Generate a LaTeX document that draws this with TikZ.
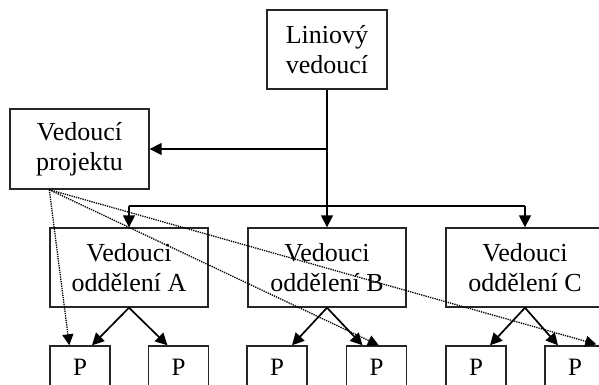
\documentclass[tikz,border=0pt]{standalone}
\usepackage{fontspec}
\setmainfont{Liberation Serif}
\usetikzlibrary{arrows.meta,calc}
\begin{document}
\begin{tikzpicture}[x=1pt,y=-1pt,
  box/.style={draw=black!85,line width=1.4pt,rectangle,inner sep=0pt,align=center,
    font=\fontsize{26}{30}\selectfont},
  bigbox/.style={box,minimum width=158pt,minimum height=79pt},
  pbox/.style={box,minimum width=60pt,minimum height=42pt,font=\fontsize{25}{30}\selectfont},
  arr/.style={line width=1.7pt,-{Triangle[length=12pt,width=12pt]}},
  busline/.style={line width=1.7pt},
  dotarr/.style={densely dotted,line width=1.3pt,-{Triangle[length=11pt,width=11pt]}}]
\useasboundingbox (0,0) rectangle (599,385);
\clip (0,0) rectangle (599,385);
\node[box,minimum width=120pt,minimum height=79pt] (lin) at (327,49.5) {Liniový\\vedoucí};
\node[box,minimum width=139pt,minimum height=80pt] (proj) at (79.5,149) {Vedoucí\\projektu};
\node[bigbox] (A) at (129,267.5) {Vedouci\\oddělení A};
\node[bigbox] (B) at (327,267.5) {Vedouci\\oddělení B};
\node[bigbox] (C) at (525,267.5) {Vedouci\\oddělení C};
\node[pbox] (pA1) at (80,367) {P};
\node[pbox] (pA2) at (178.5,367) {P};
\node[pbox] (pB1) at (277,367) {P};
\node[pbox] (pB2) at (376.5,367) {P};
\node[pbox] (pC1) at (476,367) {P};
\node[pbox] (pC2) at (575,367) {P};
% line manager connectors
\draw[arr] (lin.south) -- (B.north);
\coordinate (br) at (lin.south |- proj.east);
\draw[arr] (br) -- (proj.east);
\coordinate (busA) at ($(A.north)+(0,-21)$);
\coordinate (busC) at ($(C.north)+(0,-21)$);
\draw[busline] (busA) -- (busC);
\draw[arr] (busA) -- (A.north);
\draw[arr] (busC) -- (C.north);
% department to workers
\draw[arr] (A.south) -- ($(pA1.north)+(12,0)$);
\draw[arr] (A.south) -- ($(pA2.north)+(-11,0)$);
\draw[arr] (B.south) -- ($(pB1.north)+(15,0)$);
\draw[arr] (B.south) -- ($(pB2.north)+(-14,0)$);
\draw[arr] (C.south) -- ($(pC1.north)+(14,0)$);
\draw[arr] (C.south) -- ($(pC2.north)+(-17,0)$);
% project manager dotted
\coordinate (ps) at ($(proj.south west)+(40,0)$);
\draw[dotarr] (ps) -- ($(pA1.north west)+(20,0)$);
\draw[dotarr] (ps) -- ($(pB2.north west)+(33,0)$);
\draw[dotarr] (ps) -- ($(pC2.north west)+(52,-1)$);
\end{tikzpicture}
\end{document}
